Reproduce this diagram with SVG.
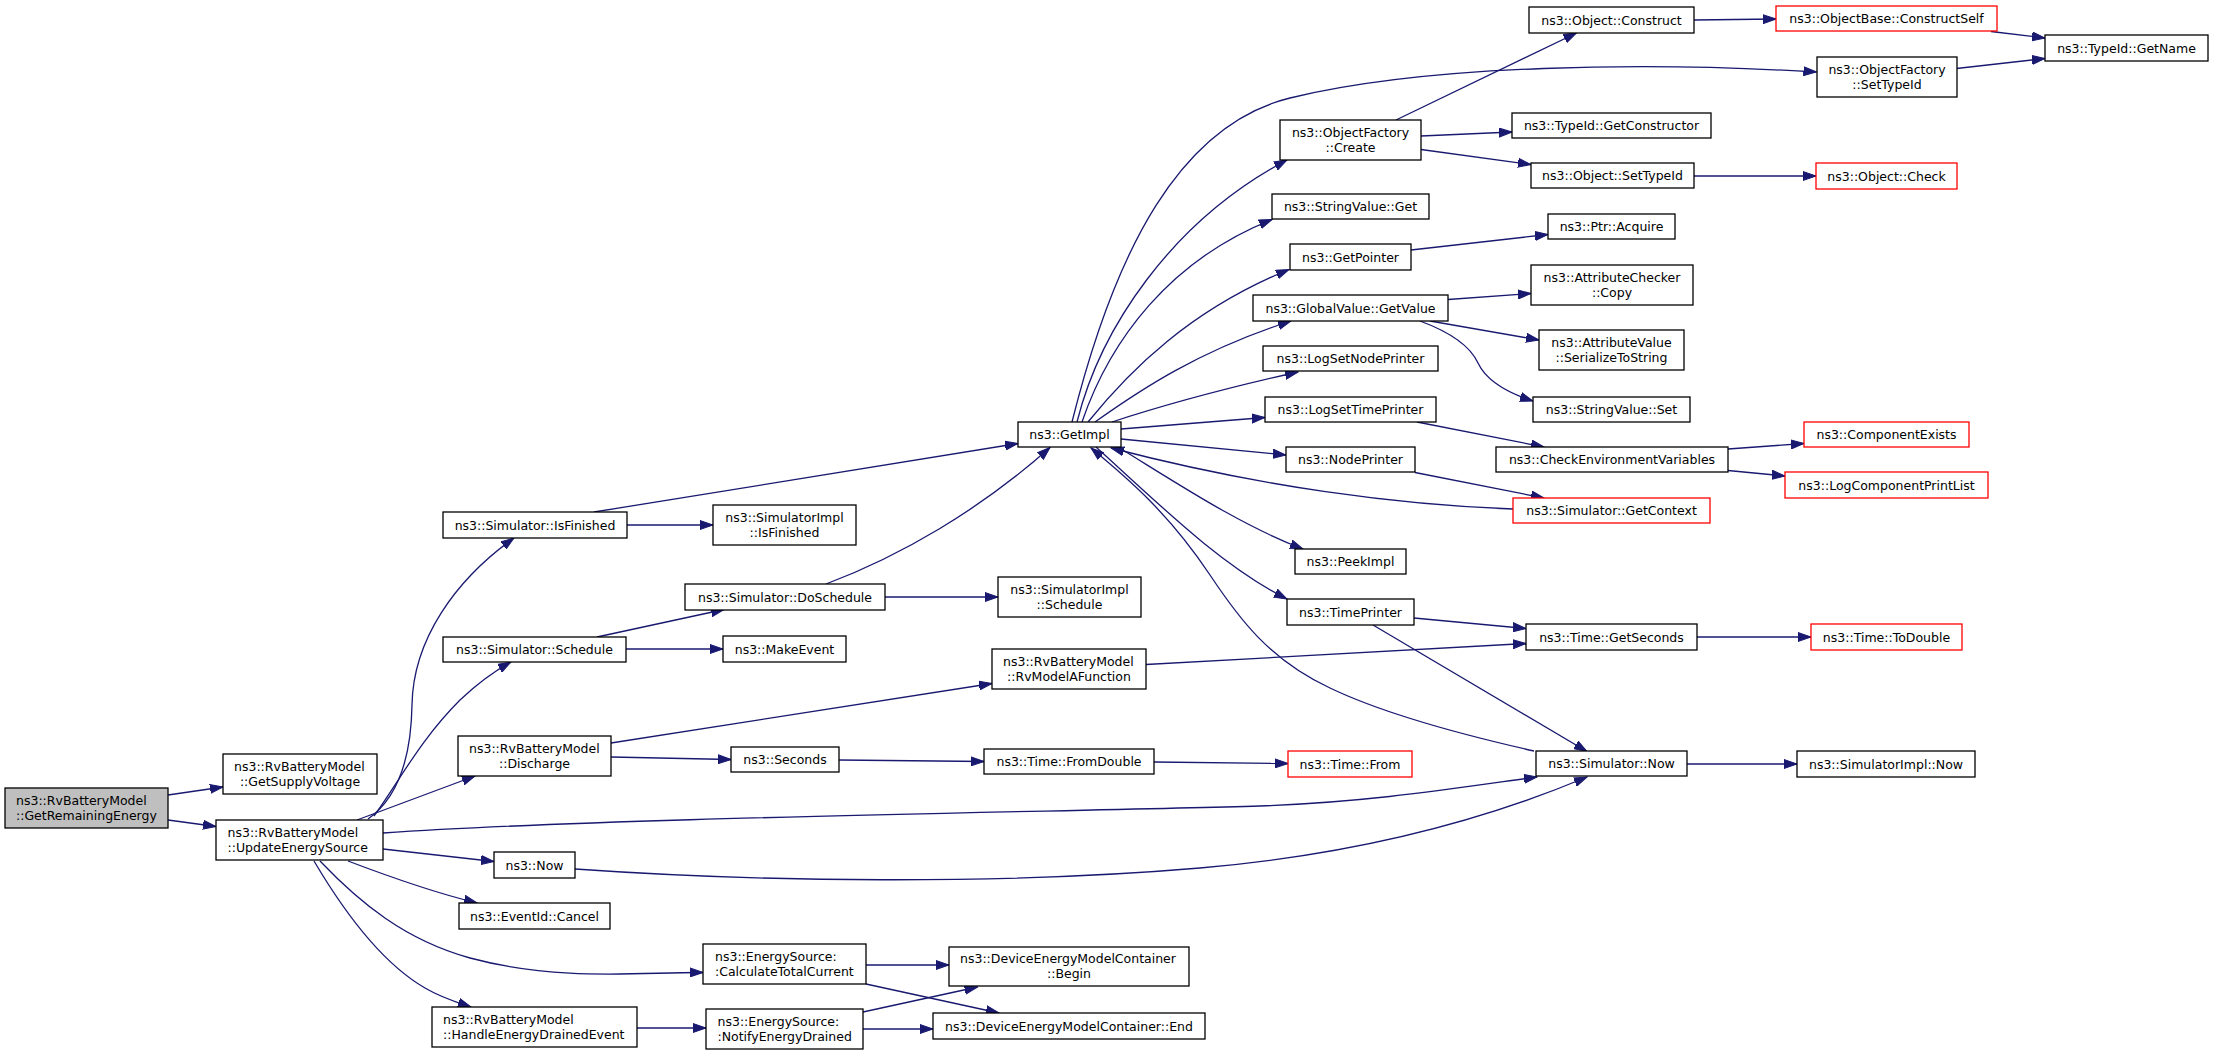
<svg xmlns="http://www.w3.org/2000/svg" width="2213" height="1055" viewBox="0 0 2213 1055">
<style>
rect{fill:#fff;stroke:#000;stroke-width:1.3}
rect.red{stroke:#ff0000}
rect.root{fill:#bfbfbf}
text{font-family:"DejaVu Sans","Liberation Sans",sans-serif;font-size:12.5px;fill:#000}
text.m{text-anchor:middle}
#edges path{fill:none;stroke:#191970;stroke-width:1.3;marker-end:url(#arr)}
</style>
<defs>
<marker id="arr" markerUnits="userSpaceOnUse" markerWidth="14" markerHeight="10" refX="13" refY="5" orient="auto" viewBox="0 0 14 10">
<path d="M0,0.5 L13,5 L0,9.5 z" fill="#191970" stroke="#191970" stroke-width="1"/>
</marker>
</defs>
<rect x="0" y="0" width="2213" height="1055" style="fill:#fff;stroke:none"/>
<g id="edges">
<path d="M168,795 L223,787"/>
<path d="M168,820 L216,826.5"/>
<path d="M368,819 C395,800 411,765 412,705 C413,640 455,580 514,538"/>
<path d="M374,816 C400,780 420,740 460,700 C477,684 493,672 511,662"/>
<path d="M357,820 L475,776"/>
<path d="M383,833 C600,818 1050,812 1260,806 C1370,802 1450,789 1537,777"/>
<path d="M383,849 L494,861.5"/>
<path d="M348,861 C390,877 432,892 477,903"/>
<path d="M320,861 C360,903 405,940 470,958 C560,982 640,972 703,972.5"/>
<path d="M314,861 C340,905 380,962 425,988 C442,998 456,1002 471,1007"/>
<path d="M594,512 L1018,443.5"/>
<path d="M627,525 L713,525"/>
<path d="M597,637 L724,609.5"/>
<path d="M626,649 L723,649"/>
<path d="M826,584 C900,556 980,510 1050,447.5"/>
<path d="M885,597 L998,597"/>
<path d="M611,743 L992,683.5"/>
<path d="M611,757 L731,759.5"/>
<path d="M839,760 L984,761.5"/>
<path d="M1154,762 L1288,763.5"/>
<path d="M575,869 C760,882 1000,885 1200,868 C1350,855 1480,822 1587,777"/>
<path d="M866,965 L949,965"/>
<path d="M866,984 L999,1013"/>
<path d="M637,1028 L706,1028"/>
<path d="M863,1012 L977.5,987"/>
<path d="M863,1029 L933,1029"/>
<path d="M1687,764 L1797,764"/>
<path d="M1534,751 C1450,732 1380,712 1330,688 C1270,660 1240,620 1210,575 C1170,515 1130,480 1091,448"/>
<path d="M1096,447 C1160,505 1220,565 1287,599"/>
<path d="M1118,447 C1180,485 1240,525 1303,549"/>
<path d="M1513,509 C1400,505 1260,487 1111,448"/>
<path d="M1121,439 L1286,455"/>
<path d="M1121,429 L1265,417.5"/>
<path d="M1112,422 C1170,403 1240,385 1298,372"/>
<path d="M1095,422 C1140,390 1200,350 1291,321"/>
<path d="M1088,422 C1130,370 1190,310 1289,269.5"/>
<path d="M1082,422 C1110,340 1170,260 1272,219.5"/>
<path d="M1077,422 C1100,330 1170,222 1287,160"/>
<path d="M1072,422 C1115,250 1180,125 1290,98 C1430,64 1650,62 1816.5,72"/>
<path d="M1396,120 L1576.5,33"/>
<path d="M1421,136 L1512,132"/>
<path d="M1421,149.5 L1531,164.5"/>
<path d="M1694,20 L1776,19"/>
<path d="M1991,31.5 L2045,38"/>
<path d="M1956.5,68.5 L2045,58.5"/>
<path d="M1694,176 L1816,176"/>
<path d="M1411,250 L1548,234.5"/>
<path d="M1448,299.5 L1531,293.5"/>
<path d="M1430,321 L1539,340"/>
<path d="M1420,321 C1458,335 1472,350 1478,363 C1487,382 1508,393 1533,401"/>
<path d="M1417,422 L1544,447"/>
<path d="M1415,472.5 L1544,498"/>
<path d="M1728,449 L1804,443.5"/>
<path d="M1728,470.5 L1785,476"/>
<path d="M1414,618 L1526,628.5"/>
<path d="M1146,664.5 L1526,643.5"/>
<path d="M1373,625 L1587,751.5"/>
<path d="M1697,637 L1811,637"/>
</g>
<g id="n_GetRemainingEnergy"><rect class="root" x="5" y="788" width="163" height="40"/><text x="16" y="804.5">ns3::RvBatteryModel</text><text x="16" y="819.5">::GetRemainingEnergy</text></g>
<g id="n_GetSupplyVoltage"><rect x="223" y="754" width="154" height="40"/><text x="234" y="770.5">ns3::RvBatteryModel</text><text class="m" x="300" y="785.5">::GetSupplyVoltage</text></g>
<g id="n_UpdateEnergySource"><rect x="216" y="820" width="167" height="40"/><text x="227.5" y="836.5">ns3::RvBatteryModel</text><text x="227.5" y="851.5">::UpdateEnergySource</text></g>
<g id="n_SimIsFinished"><rect x="443" y="512" width="184" height="26"/><text class="m" x="535" y="529.5">ns3::Simulator::IsFinished</text></g>
<g id="n_SimSchedule"><rect x="443" y="637" width="183" height="25"/><text class="m" x="534.5" y="654">ns3::Simulator::Schedule</text></g>
<g id="n_Discharge"><rect x="458" y="736" width="153" height="40"/><text x="469" y="752.5">ns3::RvBatteryModel</text><text class="m" x="534.5" y="767.5">::Discharge</text></g>
<g id="n_Now"><rect x="494" y="852" width="81" height="26"/><text class="m" x="534.5" y="869.5">ns3::Now</text></g>
<g id="n_Cancel"><rect x="459" y="903" width="151" height="26"/><text class="m" x="534.5" y="920.5">ns3::EventId::Cancel</text></g>
<g id="n_HandleEnergyDrainedEvent"><rect x="432" y="1007" width="205" height="40"/><text x="443" y="1023.5">ns3::RvBatteryModel</text><text x="443" y="1038.5">::HandleEnergyDrainedEvent</text></g>
<g id="n_SimImplIsFinished"><rect x="713" y="505" width="143" height="40"/><text class="m" x="784.5" y="521.5">ns3::SimulatorImpl</text><text class="m" x="784.5" y="536.5">::IsFinished</text></g>
<g id="n_DoSchedule"><rect x="685" y="584" width="200" height="26"/><text class="m" x="785" y="601.5">ns3::Simulator::DoSchedule</text></g>
<g id="n_MakeEvent"><rect x="723" y="636" width="123" height="26"/><text class="m" x="784.5" y="653.5">ns3::MakeEvent</text></g>
<g id="n_Seconds"><rect x="731" y="747" width="108" height="25"/><text class="m" x="785" y="764">ns3::Seconds</text></g>
<g id="n_CalculateTotalCurrent"><rect x="703" y="944" width="163" height="40"/><text x="715" y="960.5">ns3::EnergySource:</text><text x="715" y="975.5">:CalculateTotalCurrent</text></g>
<g id="n_NotifyEnergyDrained"><rect x="706" y="1009" width="157" height="40"/><text x="717.5" y="1025.5">ns3::EnergySource:</text><text x="717.5" y="1040.5">:NotifyEnergyDrained</text></g>
<g id="n_GetImpl"><rect x="1018" y="422" width="103" height="25"/><text class="m" x="1069.5" y="439">ns3::GetImpl</text></g>
<g id="n_SimImplSchedule"><rect x="998" y="577" width="143" height="40"/><text class="m" x="1069.5" y="593.5">ns3::SimulatorImpl</text><text class="m" x="1069.5" y="608.5">::Schedule</text></g>
<g id="n_RvModelAFunction"><rect x="992" y="649" width="154" height="40"/><text x="1003" y="665.5">ns3::RvBatteryModel</text><text class="m" x="1069" y="680.5">::RvModelAFunction</text></g>
<g id="n_FromDouble"><rect x="984" y="749" width="170" height="25"/><text class="m" x="1069" y="766">ns3::Time::FromDouble</text></g>
<g id="n_DEMCBegin"><rect x="949" y="947" width="240" height="39"/><text x="960" y="963">ns3::DeviceEnergyModelContainer</text><text class="m" x="1069" y="978">::Begin</text></g>
<g id="n_DEMCEnd"><rect x="933" y="1013" width="272" height="26"/><text class="m" x="1069" y="1030.5">ns3::DeviceEnergyModelContainer::End</text></g>
<g id="n_OFCreate"><rect x="1280" y="120" width="141" height="40"/><text class="m" x="1350.5" y="136.5">ns3::ObjectFactory</text><text class="m" x="1350.5" y="151.5">::Create</text></g>
<g id="n_StringValueGet"><rect x="1272" y="194" width="157" height="25"/><text class="m" x="1350.5" y="211">ns3::StringValue::Get</text></g>
<g id="n_GetPointer"><rect x="1290" y="244" width="121" height="26"/><text class="m" x="1350.5" y="261.5">ns3::GetPointer</text></g>
<g id="n_GlobalValueGetValue"><rect x="1253" y="295" width="195" height="26"/><text class="m" x="1350.5" y="312.5">ns3::GlobalValue::GetValue</text></g>
<g id="n_LogSetNodePrinter"><rect x="1263" y="346" width="175" height="25"/><text class="m" x="1350.5" y="363">ns3::LogSetNodePrinter</text></g>
<g id="n_LogSetTimePrinter"><rect x="1265" y="397" width="171" height="25"/><text class="m" x="1350.5" y="414">ns3::LogSetTimePrinter</text></g>
<g id="n_NodePrinter"><rect x="1286" y="447" width="129" height="25"/><text class="m" x="1350.5" y="464">ns3::NodePrinter</text></g>
<g id="n_PeekImpl"><rect x="1295" y="549" width="111" height="25"/><text class="m" x="1350.5" y="566">ns3::PeekImpl</text></g>
<g id="n_TimePrinter"><rect x="1287" y="599" width="127" height="26"/><text class="m" x="1350.5" y="616.5">ns3::TimePrinter</text></g>
<g id="n_TimeFrom"><rect class="red" x="1288" y="751" width="124" height="26"/><text class="m" x="1350" y="768.5">ns3::Time::From</text></g>
<g id="n_ObjectConstruct"><rect x="1529" y="7" width="165" height="26"/><text class="m" x="1611.5" y="24.5">ns3::Object::Construct</text></g>
<g id="n_GetConstructor"><rect x="1512" y="113" width="199" height="25"/><text class="m" x="1611.5" y="130">ns3::TypeId::GetConstructor</text></g>
<g id="n_ObjectSetTypeId"><rect x="1531" y="163" width="163" height="25"/><text class="m" x="1612.5" y="180">ns3::Object::SetTypeId</text></g>
<g id="n_PtrAcquire"><rect x="1548" y="214" width="127" height="25"/><text class="m" x="1611.5" y="231">ns3::Ptr::Acquire</text></g>
<g id="n_AttrCheckerCopy"><rect x="1531" y="265" width="162" height="40"/><text class="m" x="1612" y="281.5">ns3::AttributeChecker</text><text class="m" x="1612" y="296.5">::Copy</text></g>
<g id="n_SerializeToString"><rect x="1539" y="330" width="145" height="40"/><text class="m" x="1611.5" y="346.5">ns3::AttributeValue</text><text class="m" x="1611.5" y="361.5">::SerializeToString</text></g>
<g id="n_StringValueSet"><rect x="1533" y="397" width="157" height="25"/><text class="m" x="1611.5" y="414">ns3::StringValue::Set</text></g>
<g id="n_CheckEnv"><rect x="1496" y="447" width="232" height="25"/><text class="m" x="1612" y="464">ns3::CheckEnvironmentVariables</text></g>
<g id="n_GetContext"><rect class="red" x="1513" y="498" width="197" height="25"/><text class="m" x="1611.5" y="515">ns3::Simulator::GetContext</text></g>
<g id="n_GetSeconds"><rect x="1526" y="624" width="171" height="26"/><text class="m" x="1611.5" y="641.5">ns3::Time::GetSeconds</text></g>
<g id="n_SimNow"><rect x="1536" y="751" width="151" height="25"/><text class="m" x="1611.5" y="768">ns3::Simulator::Now</text></g>
<g id="n_ConstructSelf"><rect class="red" x="1776" y="6" width="221" height="25"/><text class="m" x="1886.5" y="23">ns3::ObjectBase::ConstructSelf</text></g>
<g id="n_OFSetTypeId"><rect x="1817" y="57" width="140" height="40"/><text class="m" x="1887" y="73.5">ns3::ObjectFactory</text><text class="m" x="1887" y="88.5">::SetTypeId</text></g>
<g id="n_ObjectCheck"><rect class="red" x="1816" y="163" width="141" height="26"/><text class="m" x="1886.5" y="180.5">ns3::Object::Check</text></g>
<g id="n_ComponentExists"><rect class="red" x="1804" y="422" width="165" height="25"/><text class="m" x="1886.5" y="439">ns3::ComponentExists</text></g>
<g id="n_LogComponentPrintList"><rect class="red" x="1785" y="472" width="203" height="26"/><text class="m" x="1886.5" y="489.5">ns3::LogComponentPrintList</text></g>
<g id="n_ToDouble"><rect class="red" x="1811" y="624" width="151" height="26"/><text class="m" x="1886.5" y="641.5">ns3::Time::ToDouble</text></g>
<g id="n_SimImplNow"><rect x="1797" y="751" width="178" height="26"/><text class="m" x="1886" y="768.5">ns3::SimulatorImpl::Now</text></g>
<g id="n_GetName"><rect x="2045" y="35" width="163" height="26"/><text class="m" x="2126.5" y="52.5">ns3::TypeId::GetName</text></g>
</svg>
